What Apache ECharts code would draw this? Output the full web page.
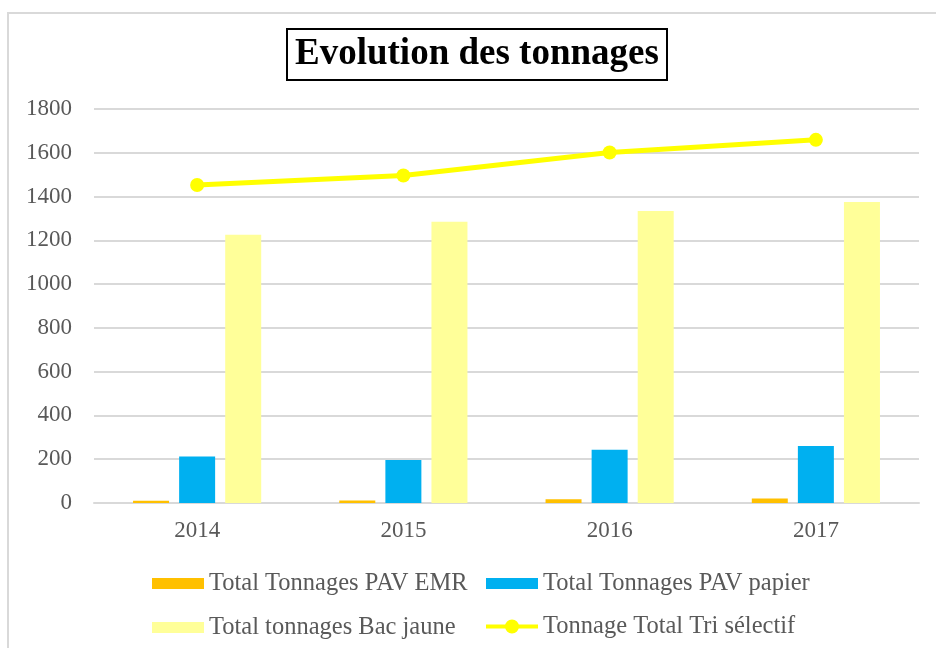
<!DOCTYPE html>
<html>
<head>
<meta charset="utf-8">
<script src="https://cdn.jsdelivr.net/npm/echarts@6/dist/echarts.min.js"></script>
<style>
html,body{margin:0;padding:0;background:#fff;}
#c{width:936px;height:648px;}
</style>
</head>
<body>
<div id="c"></div>
<script>
var years = ['2014', '2015', '2016', '2017'];
var pavEmr = [10, 11, 17, 20];
var pavPapier = [212, 196, 243, 260];
var bacJaune = [1225, 1285, 1334, 1375];
var triSelectif = [1453, 1496, 1601, 1659];
var yTicks = [0, 200, 400, 600, 800, 1000, 1200, 1400, 1600, 1800];

var names = ['Total Tonnages PAV EMR', 'Total Tonnages PAV papier', 'Total tonnages Bac jaune', 'Tonnage Total Tri sélectif'];
var serif = '"Liberation Serif", "DejaVu Serif", serif';

var chart = echarts.init(document.getElementById('c'));
var legendText = { fontFamily: serif, fontSize: 24.5, color: '#595959' };
function leg(name, left, top, icon, h) {
  return {
    left: left, top: top,
    itemWidth: 52, itemHeight: h,
    icon: icon,
    data: [name],
    textStyle: legendText,
    padding: 0
  };
}
var lineIcon = 'path://M0,5H52V9H0Z M19,7A7,7 0 1,1 33,7A7,7 0 1,1 19,7Z';
chart.setOption({
  animation: false,
  backgroundColor: '#ffffff',
  title: {
    text: 'Evolution des tonnages',
    left: 287,
    top: 29,
    padding: [7, 8, 7, 8],
    borderColor: '#000000',
    borderWidth: 2,
    textStyle: { fontFamily: serif, fontWeight: 'bold', fontSize: 37, color: '#000000' }
  },
  graphic: [{
    type: 'rect',
    shape: { x: 8, y: 13, width: 940, height: 650 },
    style: { fill: null, stroke: '#d9d9d9', lineWidth: 2 },
    silent: true
  }],
  legend: [
    leg(names[0], 152, 571, 'rect', 11),
    leg(names[1], 486, 571, 'rect', 11),
    leg(names[2], 152, 615, 'rect', 11),
    leg(names[3], 486, 614, lineIcon, 14)
  ],
  grid: { left: 94, right: 17, top: 109, bottom: 145 },
  xAxis: {
    type: 'category',
    data: years,
    axisLine: { lineStyle: { color: '#d9d9d9', width: 2 } },
    axisTick: { show: false },
    axisLabel: { fontFamily: serif, fontSize: 23, color: '#595959', margin: 16 }
  },
  yAxis: {
    type: 'value',
    min: yTicks[0],
    max: yTicks[yTicks.length - 1],
    interval: 200,
    axisLine: { show: false },
    axisTick: { show: false },
    splitLine: { lineStyle: { color: '#d9d9d9', width: 2 } },
    axisLabel: { fontFamily: serif, fontSize: 23, color: '#595959', margin: 22,
      formatter: function (v) { return String(v); } }
  },
  series: [{
    name: names[0],
    type: 'bar',
    data: pavEmr,
    barWidth: 36,
    barGap: '28%',
    itemStyle: { color: '#FFC000' }
  }, {
    name: names[1],
    type: 'bar',
    data: pavPapier,
    barWidth: 36,
    barGap: '28%',
    itemStyle: { color: '#00B0F0' }
  }, {
    name: names[2],
    type: 'bar',
    data: bacJaune,
    barWidth: 36,
    barGap: '28%',
    itemStyle: { color: '#FFFF99' }
  }, {
    name: names[3],
    type: 'line',
    data: triSelectif,
    symbol: 'circle',
    symbolSize: 14,
    lineStyle: { color: '#FFFF00', width: 5 },
    itemStyle: { color: '#FFFF00' }
  }]
});
</script>
</body>
</html>
